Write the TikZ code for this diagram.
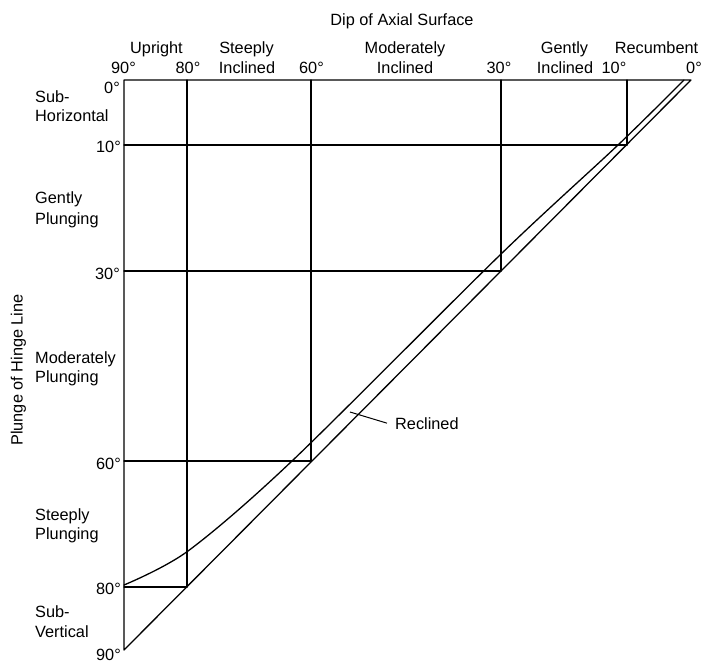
\documentclass[tikz,border=0pt]{standalone}
\usepackage{fontspec}
\setmainfont{Liberation Sans}
\begin{document}
\begin{tikzpicture}[x=1pt,y=-1pt,
  frame/.style={line width=1.3pt, line cap=round, line join=round},
  lbl/.style={font=\fontsize{16.3}{19}\selectfont, inner sep=0pt, anchor=base},
  lblw/.style={lbl, anchor=base west},
  lble/.style={lbl, anchor=base east}]
\useasboundingbox (0,0) rectangle (701,663);

% corners of the triangle
\coordinate (TL) at (124,80);
\coordinate (TR) at (691,80);
\coordinate (BL) at (124,650);
% dip of axial surface along the top edge
\coordinate (t80) at (187,80);
\coordinate (t60) at (311,80);
\coordinate (t30) at (501,80);
\coordinate (t10) at (627,80);
% plunge of hinge line along the left edge
\coordinate (l10) at (124,145);
\coordinate (l30) at (124,271);
\coordinate (l60) at (124,461);
\coordinate (l80) at (124,587);
% points on the diagonal (plunge = dip)
\coordinate (d80) at (187,587);
\coordinate (d60) at (311,461);
\coordinate (d30) at (501,271);
\coordinate (d10) at (627,145);

% outline
\draw[frame] (TR) -- (TL) -- (BL) -- (TR);
% dip boundaries
\draw[frame] (t80) -- (d80);
\draw[frame] (t60) -- (d60);
\draw[frame] (t30) -- (d30);
\draw[frame] (t10) -- (d10);
% plunge boundaries
\draw[frame] (l10) -- (d10);
\draw[frame] (l30) -- (d30);
\draw[frame] (l60) -- (d60);
\draw[frame] (l80) -- (d80);

% limit of reclined folds
\coordinate (r0) at (124,585);
\coordinate (r1) at (188,551);
\coordinate (r2) at (292,461);
\coordinate (r3) at (500,255);
\coordinate (r4) at (618,145);
\coordinate (r5) at (684,80);
\draw[frame] plot[smooth, tension=0.5] coordinates {(r0) (r1) (r2) (r3) (r4) (r5)};

% top axis
\node[lbl] (dipt) at (402,26) {Dip of Axial Surface};
\node[lbl] (cu) at (156.5,54) {Upright};
\node[lbl] (cs) at (246.5,54) {Steeply};
\node[lbl] (csi) at (247,74) {Inclined};
\node[lbl] (cm) at (405,54) {Moderately};
\node[lbl] (cmi) at (405,74) {Inclined};
\node[lbl] (cg) at (564.5,54) {Gently};
\node[lbl] (cgi) at (565,74) {Inclined};
\node[lbl] (cr) at (656.5,54) {Recumbent};
\node[lbl] (a90) at (123.5,74) {90°};
\node[lbl] (a80) at (188,74) {80°};
\node[lbl] (a60) at (311.5,74) {60°};
\node[lbl] (a30) at (499,74) {30°};
\node[lbl] (a10) at (614,74) {10°};
\node[lbl] (a0) at (694,74) {0°};

% left axis
\node[lbl, rotate=90] (plt) at (22.5,370) {Plunge of Hinge Line};
\node[lble] (p0) at (120,94) {0°};
\node[lble] (p10) at (121,153) {10°};
\node[lble] (p30) at (120,279) {30°};
\node[lble] (p60) at (121,469) {60°};
\node[lble] (p80) at (121,594) {80°};
\node[lble] (p90) at (121,660) {90°};
\node[lblw] (sh1) at (35,103) {Sub-};
\node[lblw] (sh2) at (35,122) {Horizontal};
\node[lblw] (gp1) at (35,204) {Gently};
\node[lblw] (gp2) at (35,224) {Plunging};
\node[lblw] (mp1) at (35,363) {Moderately};
\node[lblw] (mp2) at (35,382) {Plunging};
\node[lblw] (sp1) at (35,520) {Steeply};
\node[lblw] (sp2) at (35,539) {Plunging};
\node[lblw] (sv1) at (35,617) {Sub-};
\node[lblw] (sv2) at (35,637) {Vertical};

% reclined label with leader
\node[lblw] (recl) at (395,429) {Reclined};
\coordinate (rp) at (350,412);
\draw[line width=1pt] (rp) -- ([xshift=-8]recl.west);
\end{tikzpicture}
\end{document}
